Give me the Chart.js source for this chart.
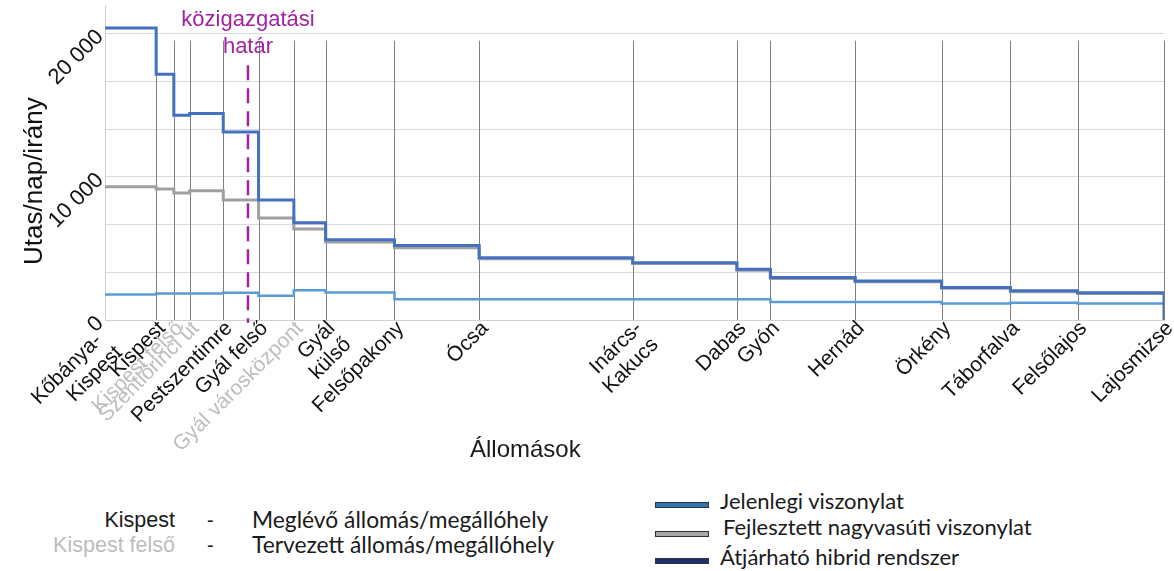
<!DOCTYPE html>
<html lang="hu">
  <head>
    <meta charset="UTF-8" />
    <title>Utasforgalom állomásonként</title>
    <script src="https://cdn.jsdelivr.net/npm/chart.js"></script>
    <style>
      body { margin: 0; background: #fff; }
      #page {
        position: relative;
        width: 1174px;
        height: 571px;
        overflow: hidden;
        font-family: "Liberation Sans", Arial, sans-serif;
        color: #1a1a1a;
      }
      .chart-box { position: absolute; left: 0; top: 0; width: 1174px; height: 470px; }
      .x-title { position: absolute; left: 470px; top: 437px; font-size: 24px; line-height: 1; }
      .abs { position: absolute; white-space: nowrap; line-height: 1; }
      .stn { font-size: 21.5px; text-align: right; width: 170px; left: 5px; }
      .dash { font-size: 20px; left: 207px; }
      .note { font-family: Lato, "Open Sans", sans-serif; font-size: 22.8px; left: 252px; }
      .swatch { position: absolute; left: 655px; width: 52px; height: 4px; border: 1px solid #333; }
      .leg { font-family: Lato, "Open Sans", sans-serif; font-size: 22px; }
    </style>
  </head>
  <body>
    <div id="page">
      <div class="chart-box"><canvas id="utasChart"></canvas></div>
      <div class="x-title">Állomások</div>

      <div class="abs stn" style="top: 510px">Kispest</div>
      <div class="abs dash" style="top: 510px">-</div>
      <div class="abs note" style="top: 508px">Meglévő állomás/megállóhely</div>
      <div class="abs stn" style="top: 535px; color: #bdbdbd">Kispest felső</div>
      <div class="abs dash" style="top: 535px">-</div>
      <div class="abs note" style="top: 533px">Tervezett állomás/megállóhely</div>

      <div class="swatch" style="top: 502px; background: #2e75b6"></div>
      <div class="abs leg" style="left: 720px; top: 490px">Jelenlegi viszonylat</div>
      <div class="swatch" style="top: 531px; background: #a6a6a6"></div>
      <div class="abs leg" style="left: 723px; top: 516px">Fejlesztett nagyvasúti viszonylat</div>
      <div class="swatch" style="top: 558px; background: #1f2f73"></div>
      <div class="abs leg" style="left: 720px; top: 546px">Átjárható hibrid rendszer</div>
    </div>

    <script>
      // Állomások (km-ben a vonal mentén, leolvasva)
      const stationNames = [
        "Kőbánya-   |Kispest  ", "Kispest", "Kispest felső", "Szentlőrinci út",
        "Pestszentimre", "Gyál felső", "Gyál városközpont", "Gyál|külső",
        "Felsőpakony", "Ócsa", "Inárcs-|Kakucs", "Dabas", "Gyón", "Hernád",
        "Örkény", "Táborfalva", "Felsőlajos", "Lajosmizse",
      ];
      const stationKm = [0, 2.9, 3.9, 4.8, 6.7, 8.7, 10.7, 12.5, 16.4, 21.2,
        29.9, 35.8, 37.7, 42.5, 47.4, 51.3, 55.1, 60];
      const planned = [false, false, true, true, false, false, true, false,
        false, false, false, false, false, false, false, false, false, false];
      const hatarKm = 8.1;

      // Utas/nap/irány, az állomástól induló szakaszra (utolsó = végpont)
      const hybrid = [20400, 17170, 14300, 14420, 13125, 8380, 6800, 5600, 5210,
        4350, 4000, 3540, 2960, 2730, 2270, 2040, 1900, 0];
      const fejlesztett = [9300, 9150, 8870, 9030, 8380, 7130, 6350, 5440, 5050,
        4280, 3940, 3480, 2900, 2670, 2210, 1980, 1850, 1850];
      const jelenlegi = [1785, 1850, 1850, 1850, 1900, 1700, 2080, 1920, 1450,
        1450, 1450, 1450, 1250, 1250, 1160, 1200, 1160, 1160];

      const yTicks = [0, 10000 / 3, 20000 / 3, 10000, 40000 / 3, 50000 / 3, 20000];

      const toPoints = (vals) => stationKm.map((km, i) => ({ x: km, y: vals[i] }));

      // függőleges állomásvonalak, közigazgatási határ, y tengely címe
      const stationLines = {
        id: "stationLines",
        beforeDatasetsDraw(chart) {
          const { ctx, scales: { x, y } } = chart;
          ctx.save();
          ctx.strokeStyle = "#7f7f7f";
          ctx.lineWidth = 1;
          stationKm.forEach((km, i) => {
            if (i === 0) return;
            const px = Math.round(x.getPixelForValue(km)) + 0.5;
            ctx.beginPath();
            ctx.moveTo(px, y.getPixelForValue(19500));
            ctx.lineTo(px, y.getPixelForValue(0));
            ctx.stroke();
          });
          ctx.restore();
        },
        afterDatasetsDraw(chart) {
          const { ctx, scales: { x, y } } = chart;
          const px = x.getPixelForValue(hatarKm);
          ctx.save();
          ctx.strokeStyle = "#a0239f";
          ctx.lineWidth = 2.5;
          ctx.setLineDash([15, 8]);
          ctx.beginPath();
          ctx.moveTo(px, y.getPixelForValue(17800));
          ctx.lineTo(px, y.getPixelForValue(-200));
          ctx.stroke();
          ctx.setLineDash([]);
          ctx.fillStyle = "#a0239f";
          ctx.font = '22px "Liberation Sans", Arial, sans-serif';
          ctx.textAlign = "center";
          ctx.textBaseline = "middle";
          ctx.fillText("közigazgatási", px, y.getPixelForValue(20950));
          ctx.fillText("határ", px, y.getPixelForValue(19050));

          // y tengely címe
          ctx.fillStyle = "#111";
          ctx.font = '26px "Liberation Sans", Arial, sans-serif';
          ctx.translate(35, y.getPixelForValue(9700));
          ctx.rotate(-Math.PI / 2);
          ctx.fillText("Utas/nap/irány", 0, 0);
          ctx.restore();
        },
      };

      new Chart(document.getElementById("utasChart"), {
        type: "line",
        data: {
          datasets: [
            {
              label: "Átjárható hibrid rendszer",
              data: toPoints(hybrid),
              borderColor: "#4470c0",
              borderWidth: 3,
              stepped: true,
              pointRadius: 0,
              order: 0,
            },
            {
              label: "Fejlesztett nagyvasúti viszonylat",
              data: toPoints(fejlesztett),
              borderColor: "#a0a0a0",
              borderWidth: 3,
              stepped: true,
              pointRadius: 0,
              order: 1,
            },
            {
              label: "Jelenlegi viszonylat",
              data: toPoints(jelenlegi),
              borderColor: "#5b9bd5",
              borderWidth: 2.5,
              stepped: true,
              pointRadius: 0,
              order: 2,
            },
          ],
        },
        options: {
          responsive: true,
          maintainAspectRatio: false,
          animation: false,
          layout: { padding: { top: 5, right: 10, left: 0, bottom: 0 } },
          plugins: {
            legend: { display: false },
            tooltip: { enabled: false },
          },
          scales: {
            x: {
              type: "linear",
              min: 0,
              max: 60,
              afterBuildTicks: (axis) => {
                axis.ticks = stationKm.map((v) => ({ value: v }));
              },
              afterFit: (axis) => {
                axis.height = 150;
                axis.paddingLeft = 0;
                axis.paddingRight = 0;
              },
              grid: { display: false, drawTicks: false },
              border: { color: "#d0d0d0" },
              ticks: {
                autoSkip: false,
                minRotation: 45,
                maxRotation: 45,
                padding: -3,
                labelOffset: 6,
                font: { family: '"Liberation Sans", Arial, sans-serif', size: 21, lineHeight: 1.1 },
                color: (ctx) => (planned[ctx.index] ? "#bdbdbd" : "#111"),
                callback: (v, i) => stationNames[i].split("|"),
              },
            },
            y: {
              min: 0,
              max: 22000,
              afterBuildTicks: (axis) => {
                axis.ticks = yTicks.map((v) => ({ value: v }));
              },
              afterFit: (axis) => {
                axis.width = 105;
                axis.paddingTop = 0;
                axis.paddingBottom = 0;
              },
              grid: { color: "#d9d9d9", drawTicks: false },
              border: { color: "#d0d0d0" },
              ticks: {
                minRotation: 45,
                maxRotation: 45,
                padding: 5,
                font: { family: '"Liberation Sans", Arial, sans-serif', size: 22 },
                color: "#111",
                callback: (v) =>
                  Math.round(v) % 10000 === 0
                    ? Math.round(v).toString().replace(/\B(?=(\d{3})+(?!\d))/g, " ")
                    : "",
              },
            },
          },
        },
        plugins: [stationLines],
      });
    </script>
  </body>
</html>
